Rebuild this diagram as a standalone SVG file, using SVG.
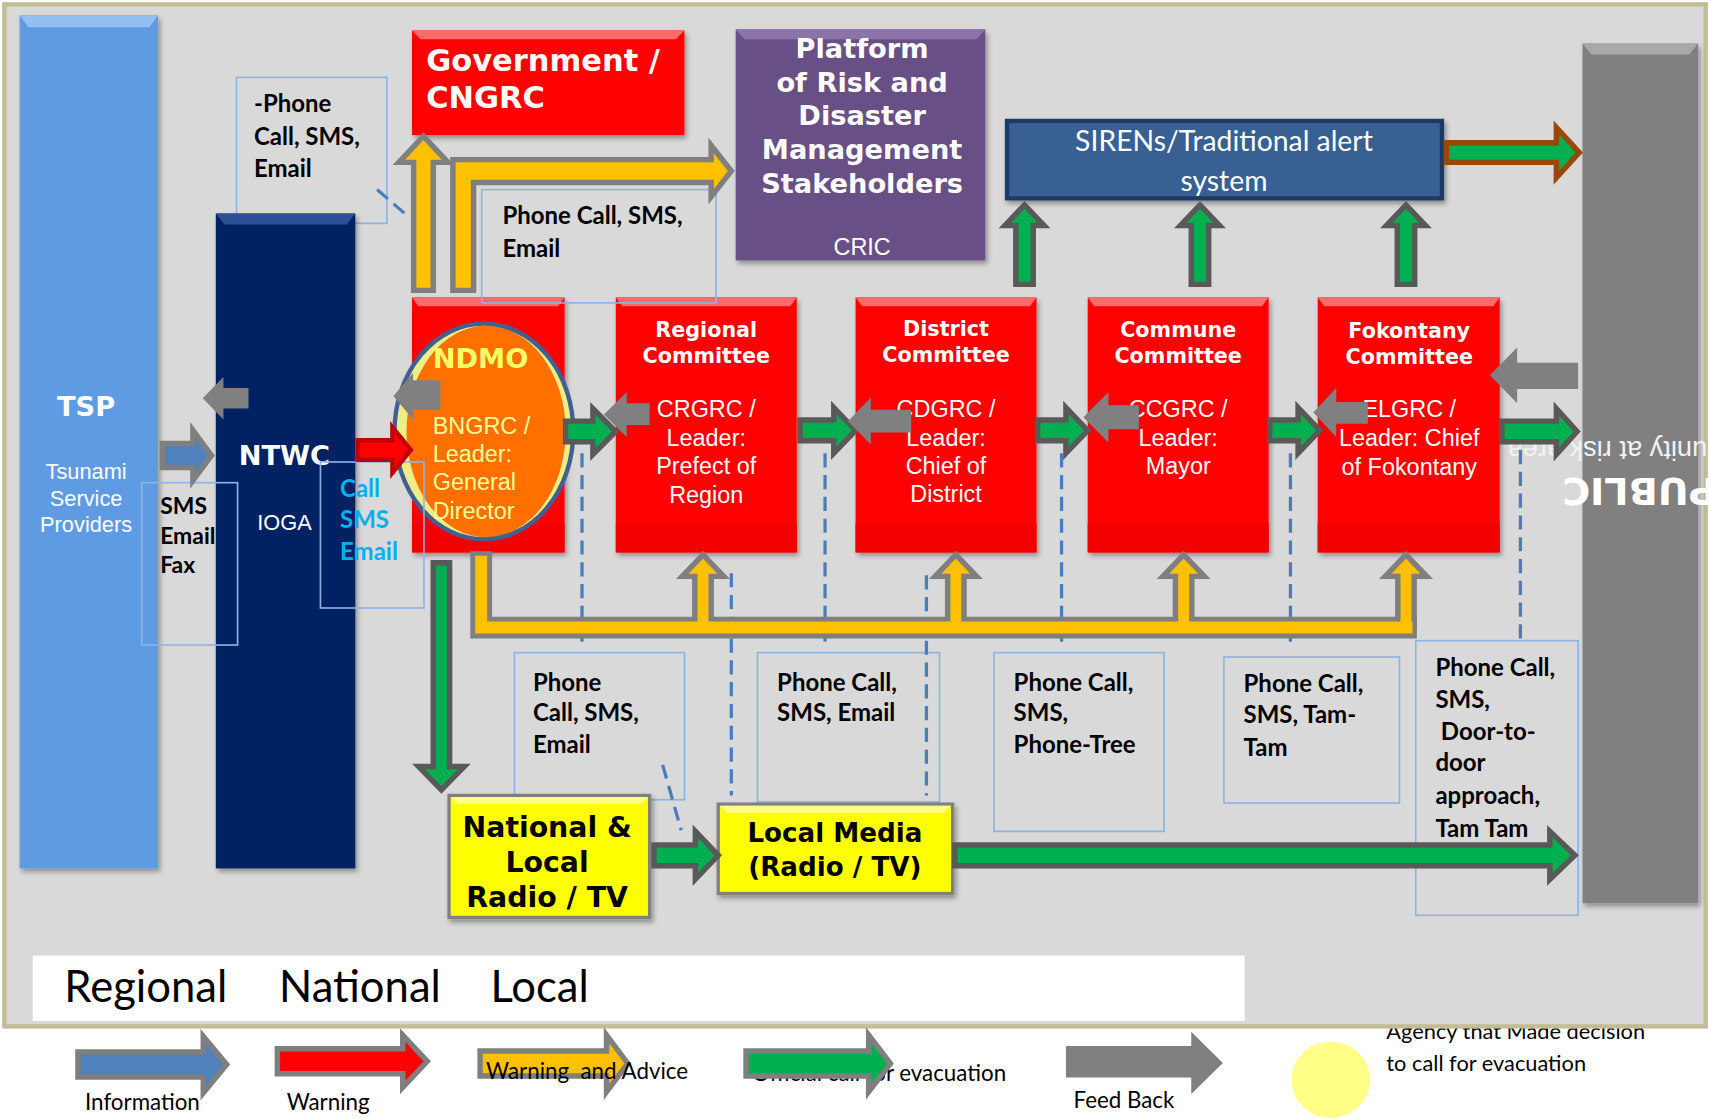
<svg xmlns="http://www.w3.org/2000/svg" width="1709" height="1119" viewBox="0 0 1709 1119">
<defs>
<filter id="sh" x="-10%" y="-10%" width="130%" height="130%">
<feDropShadow dx="2" dy="3" stdDeviation="2.5" flood-color="#000" flood-opacity="0.35"/>
</filter>
</defs>
<style>
.hb{font-family:"DejaVu Sans",sans-serif;font-weight:bold}
.ar{font-family:"Liberation Sans",Arial,sans-serif}
.cb{font-family:Lato,"Liberation Sans",sans-serif;font-weight:bold}
.cr{font-family:Lato,"Liberation Sans",sans-serif}
.lb{fill:none;stroke:#8db3e2;stroke-width:1.5}
.dl{fill:none;stroke:#4a7ebb;stroke-width:3;stroke-dasharray:13 7}
.gr{fill:#00b050;stroke:#595959;stroke-width:5}
.ye{fill:#ffc000;stroke:#7f7f7f;stroke-width:5}
.fb{fill:#808080}
.rb{fill:#ff0000}
.tb{fill:#ff6a6a}
.bb{fill:#f20000}
.w{fill:#ffffff}
.k{fill:#000000}
.c{text-anchor:middle}
.pre{white-space:pre}
</style>
<rect width="1709" height="1119" fill="#ffffff"/>
<g transform="scale(1.0899 1.0896)">

<g id="legend-agency-text">
<text class="cr k" font-size="20"><tspan x="1272" y="954">Agency that Made decision</tspan><tspan x="1272" y="983">to call for evacuation</tspan></text>
</g>

<g id="frame">
<rect x="4" y="4" width="1561" height="938" fill="#d9d9d9" stroke="#c4bc96" stroke-width="4"/>
<rect x="30" y="877" width="1112" height="60" fill="#ffffff"/>
<text class="cr k" font-size="40"><tspan x="59" y="920">Regional</tspan><tspan x="256" y="920">National</tspan><tspan x="450" y="920">Local</tspan></text>
</g>

<g id="lbl-top-left">
<rect x="217" y="71" width="138" height="134" class="lb"/>
<text class="cb k" font-size="22"><tspan x="233" y="103">-Phone</tspan><tspan x="233" y="133">Call, SMS,</tspan><tspan x="233" y="162">Email</tspan></text>
</g>

<g id="tsp">
<rect x="18" y="14" width="127" height="783" fill="#5f9be2" filter="url(#sh)"/>
<polygon points="18,14 145,14 137,25 26,25" fill="#93c0f2"/>
<text class="hb w c" font-size="25" x="79" y="382">TSP</text>
<text class="ar w c" font-size="20"><tspan x="79" y="440">Tsunami</tspan><tspan x="79" y="464">Service</tspan><tspan x="79" y="488">Providers</tspan></text>
</g>

<g id="ntwc">
<rect x="198" y="196" width="128" height="601" fill="#062462" filter="url(#sh)"/>
<polygon points="198,196 326,196 318,206 206,206" fill="#2d4f93"/>
<text class="hb w" font-size="25" x="219" y="427">NTWC</text>
<text class="ar w c" font-size="20" x="261" y="486">IOGA</text>
</g>

<g id="public">
<rect x="1452" y="40" width="106" height="789" fill="#808080" filter="url(#sh)"/>
<polygon points="1452,40 1558,40 1550,50 1460,50" fill="#a8a8a8"/>
<text class="hb w" font-size="35" transform="translate(1575,439) rotate(180)" x="0" y="0">PUBLIC</text>
<text class="ar" fill="#f2f2f2" font-size="25" transform="translate(1640,405) rotate(180)" x="0" y="0">Community at risk area</text>
</g>

<g id="government">
<rect x="378" y="28" width="250" height="96" class="rb" filter="url(#sh)"/>
<polygon points="378,28 628,28 620,36 386,36" class="tb"/>
<text class="hb w" font-size="28"><tspan x="391" y="65">Government /</tspan><tspan x="391" y="99">CNGRC</tspan></text>
</g>

<g id="platform">
<rect x="675" y="27" width="229" height="212" fill="#684f86" filter="url(#sh)"/>
<polygon points="675,27 904,27 896,36 683,36" fill="#8c74aa"/>
<text class="hb w c" font-size="25"><tspan x="791" y="53">Platform</tspan><tspan x="791" y="84">of Risk and</tspan><tspan x="791" y="115">Disaster</tspan><tspan x="791" y="146">Management</tspan><tspan x="791" y="177">Stakeholders</tspan></text>
<text class="ar w c" font-size="21.5" x="791" y="234">CRIC</text>
</g>

<g id="sirens">
<rect x="924" y="111" width="399" height="71" fill="#376092" stroke="#1f3b62" stroke-width="4" filter="url(#sh)"/>
<text class="cr w c" font-size="26"><tspan x="1123" y="139">SIRENs/Traditional alert</tspan><tspan x="1123" y="175">system</tspan></text>
</g>

<g id="ndmo">
<rect x="378" y="273" width="140" height="234" class="rb" filter="url(#sh)"/>
<polygon points="378,273 518,273 512,281 384,281" class="tb"/>
<rect x="378" y="480" width="140" height="27" class="bb"/>
<ellipse cx="444" cy="396" rx="82" ry="99" fill="#eeee88"/>
<ellipse cx="446" cy="396" rx="73" ry="97" fill="#ff7000"/>
<ellipse cx="444" cy="396" rx="82" ry="99" fill="none" stroke="#41608f" stroke-width="4"/>
<text class="hb" fill="#ffff66" font-size="25" x="397" y="338">NDMO</text>
<text class="ar" fill="#ffff99" font-size="21.5"><tspan x="397" y="398">BNGRC /</tspan><tspan x="397" y="424">Leader:</tspan><tspan x="397" y="450">General</tspan><tspan x="397" y="476">Director</tspan></text>
</g>

<g id="regional">
<rect x="565" y="273" width="166" height="234" class="rb" filter="url(#sh)"/>
<polygon points="565,273 731,273 725,281 571,281" class="tb"/>
<rect x="565" y="480" width="166" height="27" class="bb"/>
<text class="hb w c" font-size="19"><tspan x="648" y="309">Regional</tspan><tspan x="648" y="333">Committee</tspan></text>
<text class="ar w c" font-size="21.5"><tspan x="648" y="383">CRGRC /</tspan><tspan x="648" y="409">Leader:</tspan><tspan x="648" y="435">Prefect of</tspan><tspan x="648" y="462">Region</tspan></text>
</g>

<g id="district">
<rect x="785" y="273" width="166" height="234" class="rb" filter="url(#sh)"/>
<polygon points="785,273 951,273 945,281 791,281" class="tb"/>
<rect x="785" y="480" width="166" height="27" class="bb"/>
<text class="hb w c" font-size="19"><tspan x="868" y="308">District</tspan><tspan x="868" y="332">Committee</tspan></text>
<text class="ar w c" font-size="21.5"><tspan x="868" y="383">CDGRC /</tspan><tspan x="868" y="409">Leader:</tspan><tspan x="868" y="435">Chief of</tspan><tspan x="868" y="461">District</tspan></text>
</g>

<g id="commune">
<rect x="998" y="273" width="166" height="234" class="rb" filter="url(#sh)"/>
<polygon points="998,273 1164,273 1158,281 1004,281" class="tb"/>
<rect x="998" y="480" width="166" height="27" class="bb"/>
<text class="hb w c" font-size="19"><tspan x="1081" y="309">Commune</tspan><tspan x="1081" y="333">Committee</tspan></text>
<text class="ar w c" font-size="21.5"><tspan x="1081" y="383">CCGRC /</tspan><tspan x="1081" y="409">Leader:</tspan><tspan x="1081" y="435">Mayor</tspan></text>
</g>

<g id="fokontany">
<rect x="1209" y="273" width="167" height="234" class="rb" filter="url(#sh)"/>
<polygon points="1209,273 1376,273 1370,281 1215,281" class="tb"/>
<rect x="1209" y="480" width="167" height="27" class="bb"/>
<text class="hb w c" font-size="19"><tspan x="1293" y="310">Fokontany</tspan><tspan x="1293" y="334">Committee</tspan></text>
<text class="ar w c" font-size="21.5"><tspan x="1293" y="383">ELGRC /</tspan><tspan x="1293" y="409">Leader: Chief</tspan><tspan x="1293" y="436">of Fokontany</tspan></text>
</g>

<g id="lbl-phone-1">
<rect x="472" y="599" width="156" height="135" class="lb"/>
<text class="cb k" font-size="22"><tspan x="489" y="634">Phone</tspan><tspan x="489" y="662">Call, SMS,</tspan><tspan x="489" y="691">Email</tspan></text>
</g>
<g id="lbl-phone-2">
<rect x="695" y="599" width="167" height="137" class="lb"/>
<text class="cb k" font-size="22"><tspan x="713" y="634">Phone Call,</tspan><tspan x="713" y="662">SMS, Email</tspan></text>
</g>
<g id="lbl-phone-3">
<rect x="912" y="599" width="156" height="164" class="lb"/>
<text class="cb k" font-size="22"><tspan x="930" y="634">Phone Call,</tspan><tspan x="930" y="662">SMS,</tspan><tspan x="930" y="691">Phone-Tree</tspan></text>
</g>
<g id="lbl-phone-4">
<rect x="1123" y="603" width="161" height="134" class="lb"/>
<text class="cb k" font-size="22"><tspan x="1141" y="635">Phone Call,</tspan><tspan x="1141" y="664">SMS, Tam-</tspan><tspan x="1141" y="694">Tam</tspan></text>
</g>
<g id="lbl-phone-5">
<rect x="1299" y="588" width="149" height="252" class="lb"/>
<text class="cb k" font-size="22"><tspan x="1317" y="620">Phone Call,</tspan><tspan x="1317" y="650">SMS,</tspan><tspan x="1322" y="679">Door-to-</tspan><tspan x="1317" y="708">door</tspan><tspan x="1317" y="738">approach,</tspan><tspan x="1317" y="768">Tam Tam</tspan></text>
</g>

<g id="national-media">
<rect x="412" y="730" width="184" height="112" fill="#ffff00" stroke="#808080" stroke-width="3" filter="url(#sh)"/>
<polygon points="413.5,731.5 594.5,731.5 588,738 420,738" fill="#ffff88"/>
<text class="hb k c" font-size="26"><tspan x="502" y="768">National &amp;</tspan><tspan x="502" y="800">Local</tspan><tspan x="502" y="832">Radio / TV</tspan></text>
</g>
<g id="local-media">
<rect x="659" y="738" width="215" height="82" fill="#ffff00" stroke="#808080" stroke-width="3" filter="url(#sh)"/>
<polygon points="660.5,739.5 872.5,739.5 866,746 667,746" fill="#ffff88"/>
<text class="hb k c" font-size="24"><tspan x="766" y="773">Local Media</tspan><tspan x="766" y="804">(Radio / TV)</tspan></text>
</g>

<g id="lbl-sms-fax">
<rect x="130" y="443" width="88" height="149" class="lb"/>
<text class="cb k" font-size="21"><tspan x="147" y="472">SMS</tspan><tspan x="147" y="499">Email</tspan><tspan x="147" y="526">Fax</tspan></text>
</g>
<g id="lbl-call-sms">
<rect x="294" y="424" width="95" height="134" class="lb"/>
<text class="cb" fill="#00b0f0" font-size="22"><tspan x="312" y="456">Call</tspan><tspan x="312" y="485">SMS</tspan><tspan x="312" y="514">Email</tspan></text>
</g>
<g id="lbl-top-phone">
<rect x="442" y="174" width="215" height="104" class="lb"/>
<text class="cb k" font-size="22"><tspan x="461" y="206">Phone Call, SMS,</tspan><tspan x="461" y="236">Email</tspan></text>
</g>

<g id="connectors">
<g id="dashed">
<line x1="346" y1="174" x2="376" y2="200" class="dl"/>
<line x1="534" y1="416" x2="534" y2="590" class="dl"/>
<line x1="671" y1="526" x2="671" y2="730" class="dl"/>
<line x1="757" y1="416" x2="757" y2="590" class="dl"/>
<line x1="850" y1="528" x2="850" y2="730" class="dl"/>
<line x1="974" y1="416" x2="974" y2="590" class="dl"/>
<line x1="1184" y1="416" x2="1184" y2="592" class="dl"/>
<line x1="1395" y1="413" x2="1395" y2="587" class="dl"/>
<line x1="608" y1="702" x2="625" y2="762" class="dl"/>
</g>

<polygon class="ye" points="379.5,266.5 379.5,149 366,149 388.5,125 411,149 397.5,149 397.5,266.5"/>
<polygon class="ye" points="415.5,266.5 415.5,146.5 652.5,146.5 652.5,133.5 671,157 652.5,180.5 652.5,167.5 434.5,167.5 434.5,266.5"/>

<path d="M441.5,506 V576 H1300" fill="none" stroke="#7f7f7f" stroke-width="20"/>
<polygon class="ye" points="637.5,574 637.5,529 626,529 645,509 664,529 652.5,529 652.5,574"/>
<polygon class="ye" points="869.5,574 869.5,529 858,529 877,509 896,529 884.5,529 884.5,574"/>
<polygon class="ye" points="1078.5,574 1078.5,529 1067,529 1086,509 1105,529 1093.5,529 1093.5,574"/>
<polygon class="ye" points="1282.5,574 1282.5,529 1271,529 1290,509 1309,529 1297.5,529 1297.5,574"/>
<path d="M441.5,510 V576 H1296" fill="none" stroke="#ffc000" stroke-width="11"/>

<polygon class="gr" points="932,261 932,207 922,207 940,188 958,207 948,207 948,261"/>
<polygon class="gr" points="1093,261 1093,207 1083,207 1101,188 1119,207 1109,207 1109,261"/>
<polygon class="gr" points="1282,261 1282,207 1272,207 1290,188 1308,207 1298,207 1298,261"/>

<polygon points="1327,131 1428,131 1428,117 1449,140 1428,163 1428,149 1327,149" fill="#00b050" stroke="#984807" stroke-width="5"/>

<polygon class="gr" points="519,386.5 544,386.5 544,375 565,396 544,417 544,405.5 519,405.5"/>
<polygon class="gr" points="734,385.5 765,385.5 765,374 785,395 765,416 765,404.5 734,404.5"/>
<polygon class="gr" points="952,385.5 978,385.5 978,374 998,395 978,416 978,404.5 952,404.5"/>
<polygon class="gr" points="1165,385.5 1191,385.5 1191,374 1211,395 1191,416 1191,404.5 1165,404.5"/>
<polygon class="gr" points="1378,386.5 1428,386.5 1428,375 1447,396 1428,417 1428,405.5 1378,405.5"/>

<polygon class="gr" points="397.5,516.5 412.5,516.5 412.5,703.5 426,703.5 405,725 384,703.5 397.5,703.5"/>
<polygon class="gr" points="600,775.5 638,775.5 638,763 659,785 638,807 638,794.5 600,794.5"/>
<polygon class="gr" points="876,775.5 1422,775.5 1422,763 1445,785 1422,807 1422,794.5 876,794.5"/>

<polygon points="149,407 177,407 177,395 194,418 177,441 177,429 149,429" fill="#4f81bd" stroke="#7f7f7f" stroke-width="5"/>
<polygon points="328,404 360,404 360,392 377,413 360,434 360,422 328,422" fill="#ff0000" stroke="#c00000" stroke-width="4"/>

<polygon class="fb" points="228,356 205,356 205,346 186,365.5 205,385 205,375 228,375"/>
<polygon class="fb" points="404,349 379,349 379,342 361,363.5 379,385 379,376 404,376"/>
<polygon class="fb" points="596,370 575,370 575,360 554,380.5 575,401 575,390 596,390"/>
<polygon class="fb" points="836,376 799,376 799,365 778,386.5 799,408 799,397 836,397"/>
<polygon class="fb" points="1045,372 1017,372 1017,360 994,383 1017,406 1017,394 1045,394"/>
<polygon class="fb" points="1255,369 1226,369 1226,356 1205,378.5 1226,401 1226,389 1255,389"/>
<polygon class="fb" points="1448,333 1392,333 1392,319 1367,344.5 1392,370 1392,357 1448,357"/>
</g>

<g id="legend">
<polygon points="71.5,965.5 186.5,965.5 186.5,951 208,977 186.5,1003 186.5,988.5 71.5,988.5" fill="#4f81bd" stroke="#7f7f7f" stroke-width="5"/>
<text class="cr k" font-size="20.5" x="78" y="1019">Information</text>
<polygon points="254.5,962.5 369.5,962.5 369.5,950 392,974 369.5,998 369.5,985.5 254.5,985.5" fill="#ff0000" stroke="#7f7f7f" stroke-width="5"/>
<text class="cr k" font-size="20.5" x="263" y="1019">Warning</text>
<polygon points="440.5,964.5 556.5,964.5 556.5,950 576,976 556.5,1002 556.5,987.5 440.5,987.5" fill="#ffc000" stroke="#7f7f7f" stroke-width="5"/>
<text class="cr k pre" font-size="20.5" x="446" y="990">Warning  and Advice</text>
<text class="cr k" font-size="20.5" x="690" y="992">Official call for evacuation</text>
<polygon points="684.5,964.5 797,964.5 797,950 817,976 797,1002 797,987.5 684.5,987.5" fill="#00b050" stroke="#7f7f7f" stroke-width="5"/>
<polygon points="978,960 1093,960 1093,947 1122,975.5 1093,1004 1093,989 978,989" fill="#808080"/>
<text class="cr k" font-size="20.5" x="985" y="1017">Feed Back</text>
<ellipse cx="1221" cy="991" rx="36" ry="35" fill="#ffff88"/>
</g>
</g>
</svg>
